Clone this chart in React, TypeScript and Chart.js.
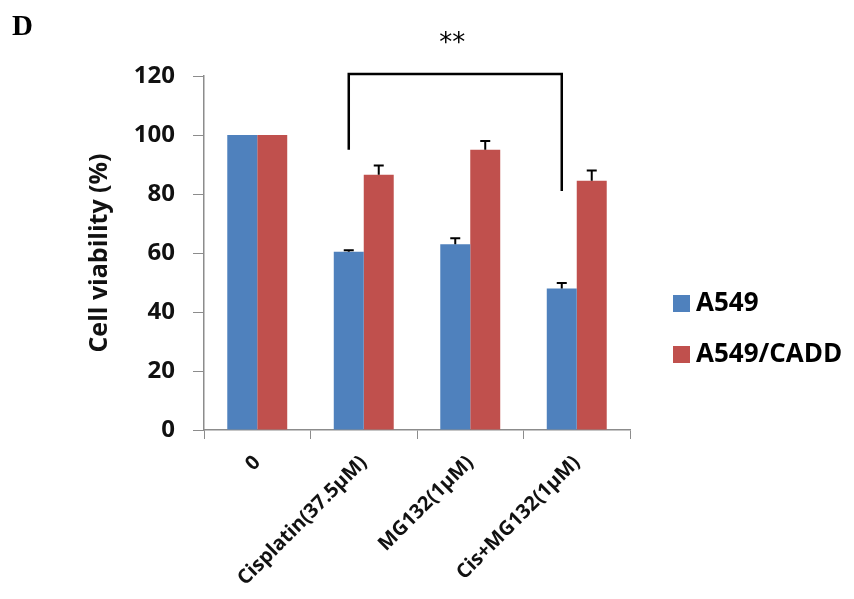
import React, { useEffect, useRef } from "react";
import { Chart, registerables } from "chart.js";

Chart.register(...registerables);

const categories = ["0", "Cisplatin(37.5μM)", "MG132(1μM)", "Cis+MG132(1μM)"];
const seriesNames = ["A549", "A549/CADD"];
const a549Values = [100, 60.4, 63, 48];
const caddValues = [100, 86.5, 95, 84.5];
const a549Errors = [0, 0.5, 2, 1.8];
const caddErrors = [0, 3.2, 3, 3.5];
const yTicks = [0, 20, 40, 60, 80, 100, 120];
const bracketLeftValue = 95;
const bracketRightValue = 81;
const bracketTopValue = 120.7;
const significance = "**";

const BLUE = "#4F81BD";
const RED = "#C0504D";
const BOLD = "'Open Sans', 'Liberation Sans', Arial, sans-serif";

const errorBarPlugin = {
  id: "errorBars",
  afterDatasetsDraw(chart: any) {
    const { ctx } = chart;
    const y = chart.scales.y;
    const errs = [a549Errors, caddErrors];
    ctx.save();
    ctx.strokeStyle = "#000";
    ctx.lineWidth = 2;
    chart.data.datasets.forEach((ds: any, di: number) => {
      const meta = chart.getDatasetMeta(di);
      meta.data.forEach((bar: any, i: number) => {
        const e = errs[di][i];
        if (!e) return;
        const top = y.getPixelForValue(ds.data[i] + e);
        const base = y.getPixelForValue(ds.data[i]);
        ctx.beginPath();
        ctx.moveTo(bar.x, base);
        ctx.lineTo(bar.x, top);
        ctx.moveTo(bar.x - 5, top);
        ctx.lineTo(bar.x + 5, top);
        ctx.stroke();
      });
    });
    // significance bracket between blue bars of categories 1 and 3
    const m = chart.getDatasetMeta(0);
    const xl = m.data[1].x;
    const xr = m.data[3].x;
    const yt = y.getPixelForValue(bracketTopValue);
    ctx.lineWidth = 2.5;
    ctx.beginPath();
    ctx.moveTo(xl, y.getPixelForValue(bracketLeftValue));
    ctx.lineTo(xl, yt);
    ctx.lineTo(xr, yt);
    ctx.lineTo(xr, y.getPixelForValue(bracketRightValue));
    ctx.stroke();
    ctx.fillStyle = "#000";
    ctx.font = "26px 'DejaVu Sans', sans-serif";
    ctx.textAlign = "center";
    ctx.textBaseline = "middle";
    ctx.fillText(significance, (xl + xr) / 2 - 3, 44);
    // panel letter
    ctx.font = "bold 29px 'Liberation Serif', 'DejaVu Serif', serif";
    ctx.textAlign = "left";
    ctx.textBaseline = "alphabetic";
    ctx.fillText("D", 12, 35);
    // legend
    const rows = [304, 355];
    chart.data.datasets.forEach((ds: any, di: number) => {
      ctx.fillStyle = ds.backgroundColor;
      ctx.fillRect(673, rows[di] - 9, 17, 17);
      ctx.fillStyle = "#000";
      ctx.font = "bold 26px " + BOLD;
      ctx.textBaseline = "middle";
      ctx.fillText(ds.label, 696, rows[di]);
    });
    ctx.restore();
  },
};

export default function App() {
  const ref = useRef<HTMLCanvasElement | null>(null);
  useEffect(() => {
    document.body.style.margin = "0";
    const chart = new Chart(ref.current as HTMLCanvasElement, {
      type: "bar",
      data: {
        labels: categories,
        datasets: [
          { label: seriesNames[0], data: a549Values, backgroundColor: BLUE },
          { label: seriesNames[1], data: caddValues, backgroundColor: RED },
        ],
      },
      options: {
        animation: false,
        responsive: false,
        maintainAspectRatio: false,
        layout: { padding: { left: 0, right: 224, top: 76, bottom: 0 } },
        plugins: { legend: { display: false }, tooltip: { enabled: false } },
        datasets: { bar: { categoryPercentage: 0.563, barPercentage: 1 } },
        scales: {
          x: {
            grid: { display: true, drawOnChartArea: false, offset: true, color: "#8c8c8c", tickLength: 9 },
            border: { color: "#8c8c8c", width: 1.5 },
            ticks: {
              maxRotation: 45,
              minRotation: 45,
              padding: 12,
              color: "#111",
              font: { family: BOLD, size: 20, weight: "bold" },
            },
            afterFit: (s: any) => {
              s.height = 169;
            },
          },
          y: {
            min: 0,
            max: 120,
            afterBuildTicks: (s: any) => {
              s.ticks = yTicks.map((v) => ({ value: v }));
            },
            grid: { display: true, drawOnChartArea: false, color: "#8c8c8c", tickLength: 11 },
            border: { color: "#8c8c8c", width: 1.5 },
            ticks: {
              padding: 18,
              color: "#111",
              font: { family: BOLD, size: 24, weight: "bold" },
            },
            title: {
              display: true,
              text: "Cell viability (%)",
              color: "#111",
              font: { family: BOLD, size: 25, weight: "bold" },
              padding: { top: 85, bottom: 0 },
            },
            afterFit: (s: any) => {
              s.width = 204;
            },
          },
        },
      },
      plugins: [errorBarPlugin],
    } as any);
    return () => chart.destroy();
  }, []);
  return <canvas ref={ref} width={854} height={599} style={{ display: "block" }} />;
}
